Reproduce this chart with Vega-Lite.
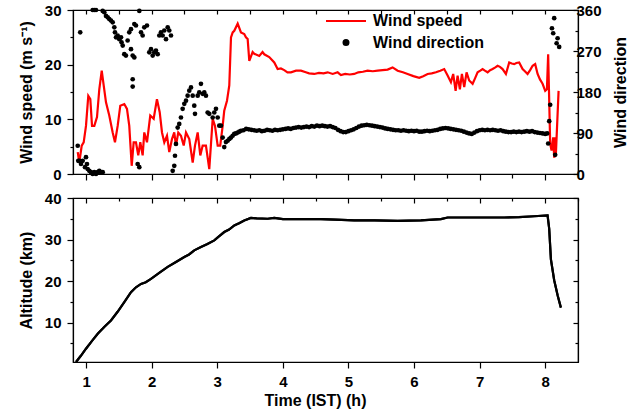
{
  "$schema": "https://vega.github.io/schema/vega-lite/v6.json",
  "padding": {"left": 17, "top": 2, "right": 5, "bottom": 5},
  "background": "white",
  "spacing": 24,
  "bounds": "flush",
  "config": {
    "font": "Liberation Sans",
    "view": {"stroke": "black", "strokeWidth": 1.2},
    "axis": {
      "domainColor": "black", "tickColor": "black", "labelColor": "black", "titleColor": "black",
      "labelFont": "Liberation Sans", "titleFont": "Liberation Sans",
      "labelFontWeight": "bold", "titleFontWeight": "bold",
      "labelFontSize": 15, "titleFontSize": 16, "grid": false,
      "domainWidth": 1.2, "tickWidth": 1.2
    }
  },
  "datasets": {
    "speed": [
      {"t":0.872,"s":4.0},{"t":0.896,"s":2.1},{"t":0.933,"s":5.2},{"t":0.963,"s":5.8},{"t":0.998,"s":8.8},{"t":1.033,"s":14.3},{"t":1.064,"s":13.7},{"t":1.090,"s":8.8},{"t":1.125,"s":8.8},{"t":1.166,"s":10.4},{"t":1.201,"s":15.5},{"t":1.238,"s":18.9},{"t":1.268,"s":16.2},{"t":1.303,"s":13.1},{"t":1.353,"s":10.7},{"t":1.405,"s":7.6},{"t":1.440,"s":5.8},{"t":1.481,"s":8.8},{"t":1.521,"s":12.5},{"t":1.582,"s":12.8},{"t":1.623,"s":11.9},{"t":1.658,"s":8.8},{"t":1.695,"s":1.5},{"t":1.725,"s":5.8},{"t":1.760,"s":5.8},{"t":1.795,"s":3.4},{"t":1.826,"s":5.8},{"t":1.862,"s":3.4},{"t":1.887,"s":7.6},{"t":1.928,"s":5.8},{"t":1.978,"s":10.7},{"t":2.030,"s":10.1},{"t":2.080,"s":13.7},{"t":2.122,"s":11.3},{"t":2.157,"s":7.6},{"t":2.192,"s":5.8},{"t":2.233,"s":7.0},{"t":2.268,"s":4.0},{"t":2.309,"s":6.4},{"t":2.344,"s":7.6},{"t":2.370,"s":5.2},{"t":2.405,"s":7.6},{"t":2.446,"s":7.0},{"t":2.488,"s":5.2},{"t":2.523,"s":7.6},{"t":2.573,"s":6.4},{"t":2.625,"s":2.1},{"t":2.660,"s":5.2},{"t":2.701,"s":7.6},{"t":2.741,"s":3.4},{"t":2.777,"s":5.2},{"t":2.827,"s":5.2},{"t":2.878,"s":0.9},{"t":2.930,"s":10.1},{"t":2.965,"s":8.8},{"t":3.006,"s":5.2},{"t":3.045,"s":5.2},{"t":3.082,"s":8.8},{"t":3.106,"s":11.6},{"t":3.148,"s":13.4},{"t":3.183,"s":16.2},{"t":3.209,"s":25.0},{"t":3.235,"s":25.9},{"t":3.259,"s":26.2},{"t":3.311,"s":27.5},{"t":3.361,"s":25.9},{"t":3.411,"s":25.6},{"t":3.437,"s":25.0},{"t":3.463,"s":24.7},{"t":3.488,"s":20.7},{"t":3.539,"s":22.3},{"t":3.564,"s":22.0},{"t":3.640,"s":21.6},{"t":3.690,"s":22.3},{"t":3.716,"s":21.9},{"t":3.792,"s":21.4},{"t":3.869,"s":20.4},{"t":3.920,"s":19.2},{"t":3.970,"s":19.3},{"t":4.021,"s":19.0},{"t":4.070,"s":18.6},{"t":4.123,"s":18.6},{"t":4.200,"s":18.9},{"t":4.276,"s":18.9},{"t":4.350,"s":18.6},{"t":4.400,"s":18.4},{"t":4.478,"s":18.3},{"t":4.550,"s":18.5},{"t":4.620,"s":18.4},{"t":4.683,"s":18.6},{"t":4.760,"s":18.3},{"t":4.835,"s":18.6},{"t":4.885,"s":18.1},{"t":4.950,"s":18.3},{"t":5.020,"s":18.2},{"t":5.088,"s":18.3},{"t":5.150,"s":18.6},{"t":5.220,"s":18.7},{"t":5.292,"s":18.9},{"t":5.370,"s":18.8},{"t":5.445,"s":18.9},{"t":5.520,"s":19.0},{"t":5.597,"s":19.1},{"t":5.673,"s":19.5},{"t":5.750,"s":18.9},{"t":5.830,"s":18.6},{"t":5.902,"s":18.3},{"t":5.990,"s":17.9},{"t":6.079,"s":17.6},{"t":6.140,"s":17.9},{"t":6.207,"s":18.3},{"t":6.270,"s":18.4},{"t":6.334,"s":18.6},{"t":6.400,"s":18.9},{"t":6.460,"s":19.2},{"t":6.512,"s":18.0},{"t":6.562,"s":16.8},{"t":6.597,"s":18.3},{"t":6.634,"s":15.2},{"t":6.664,"s":18.0},{"t":6.699,"s":15.5},{"t":6.730,"s":18.3},{"t":6.765,"s":15.9},{"t":6.801,"s":18.6},{"t":6.841,"s":17.1},{"t":6.893,"s":16.5},{"t":6.930,"s":17.5},{"t":6.969,"s":18.6},{"t":7.010,"s":18.9},{"t":7.045,"s":19.2},{"t":7.080,"s":18.9},{"t":7.122,"s":18.6},{"t":7.160,"s":19.0},{"t":7.198,"s":19.2},{"t":7.240,"s":19.5},{"t":7.274,"s":19.8},{"t":7.310,"s":19.6},{"t":7.350,"s":19.2},{"t":7.401,"s":18.3},{"t":7.451,"s":20.4},{"t":7.490,"s":20.2},{"t":7.527,"s":20.1},{"t":7.560,"s":20.3},{"t":7.603,"s":20.4},{"t":7.655,"s":19.2},{"t":7.690,"s":18.8},{"t":7.731,"s":18.3},{"t":7.770,"s":19.0},{"t":7.808,"s":19.8},{"t":7.847,"s":20.1},{"t":7.884,"s":18.3},{"t":7.920,"s":17.3},{"t":7.960,"s":16.5},{"t":8.000,"s":15.2},{"t":8.026,"s":15.5},{"t":8.045,"s":21.9},{"t":8.061,"s":13.4},{"t":8.076,"s":5.5},{"t":8.097,"s":4.3},{"t":8.122,"s":6.7},{"t":8.137,"s":3.0},{"t":8.152,"s":6.7},{"t":8.163,"s":3.7},{"t":8.189,"s":11.0},{"t":8.204,"s":15.2}
    ],
    "dir": [
      {"t":0.872,"d":62},{"t":0.880,"d":29},{"t":0.896,"d":29},{"t":0.910,"d":311},{"t":0.922,"d":22},{"t":0.948,"d":29},{"t":0.983,"d":15},{"t":0.998,"d":37},{"t":1.013,"d":22},{"t":1.024,"d":11},{"t":1.048,"d":7},{"t":1.074,"d":4},{"t":1.100,"d":0},{"t":1.125,"d":4},{"t":1.151,"d":0},{"t":1.177,"d":4},{"t":1.201,"d":7},{"t":1.227,"d":4},{"t":1.253,"d":4},
      {"t":1.100,"d":360},{"t":1.125,"d":360},{"t":1.151,"d":360},{"t":1.253,"d":358},{"t":1.277,"d":355},{"t":1.303,"d":347},{"t":1.329,"d":344},{"t":1.353,"d":340},{"t":1.379,"d":337},{"t":1.405,"d":333},{"t":1.430,"d":322},{"t":1.440,"d":311},{"t":1.456,"d":300},{"t":1.481,"d":304},{"t":1.506,"d":296},{"t":1.532,"d":300},{"t":1.540,"d":289},{"t":1.558,"d":282},{"t":1.582,"d":263},{"t":1.607,"d":260},{"t":1.633,"d":293},{"t":1.658,"d":311},{"t":1.684,"d":318},{"t":1.684,"d":274},{"t":1.710,"d":260},{"t":1.735,"d":256},{"t":1.735,"d":329},{"t":1.760,"d":326},{"t":1.811,"d":358},{"t":1.837,"d":311},{"t":1.862,"d":304},{"t":1.887,"d":322},{"t":1.928,"d":326},{"t":1.963,"d":267},{"t":1.989,"d":274},{"t":2.015,"d":260},{"t":2.039,"d":267},{"t":2.065,"d":271},{"t":2.091,"d":263},{"t":2.116,"d":304},{"t":2.141,"d":311},{"t":2.167,"d":304},{"t":2.192,"d":315},{"t":2.218,"d":296},{"t":2.244,"d":322},{"t":2.268,"d":315},{"t":2.294,"d":304},
      {"t":1.710,"d":208},{"t":1.710,"d":192},{"t":1.786,"d":22},{"t":1.811,"d":15},
      {"t":2.320,"d":7},{"t":2.344,"d":18},{"t":2.355,"d":40},{"t":2.370,"d":66},{"t":2.396,"d":102},{"t":2.420,"d":110},{"t":2.446,"d":124},{"t":2.472,"d":143},{"t":2.497,"d":154},{"t":2.523,"d":161},{"t":2.548,"d":172},{"t":2.573,"d":183},{"t":2.599,"d":190},{"t":2.625,"d":172},{"t":2.649,"d":150},{"t":2.660,"d":132},{"t":2.701,"d":172},{"t":2.725,"d":179},{"t":2.751,"d":198},{"t":2.777,"d":176},{"t":2.802,"d":179},{"t":2.827,"d":172},{"t":2.853,"d":135},{"t":2.878,"d":132},{"t":2.930,"d":124},{"t":2.954,"d":135},{"t":2.980,"d":143},{"t":3.006,"d":124},{"t":3.030,"d":106},{"t":3.056,"d":106},{"t":3.082,"d":80},{"t":3.106,"d":59},{"t":3.132,"d":70},{"t":3.158,"d":73},{"t":3.184,"d":77},{"t":3.209,"d":80},{"t":3.234,"d":84},{"t":3.259,"d":88},{"t":3.285,"d":89},{"t":3.311,"d":91},{"t":3.336,"d":93},{"t":3.361,"d":95},
      {"t":3.40,"d":96},{"t":3.44,"d":99},{"t":3.48,"d":98},{"t":3.52,"d":97},{"t":3.56,"d":96},{"t":3.60,"d":95},{"t":3.64,"d":96},{"t":3.68,"d":94},{"t":3.72,"d":95},{"t":3.76,"d":97},{"t":3.80,"d":96},{"t":3.84,"d":95},{"t":3.88,"d":97},{"t":3.92,"d":96},{"t":3.96,"d":97},{"t":4.00,"d":98},{"t":4.04,"d":99},{"t":4.08,"d":100},{"t":4.12,"d":99},{"t":4.16,"d":101},{"t":4.20,"d":102},{"t":4.24,"d":103},{"t":4.28,"d":102},{"t":4.32,"d":103},{"t":4.36,"d":104},{"t":4.40,"d":103},{"t":4.44,"d":105},{"t":4.48,"d":104},{"t":4.52,"d":106},{"t":4.56,"d":105},{"t":4.60,"d":106},{"t":4.64,"d":105},{"t":4.68,"d":104},{"t":4.72,"d":105},{"t":4.76,"d":103},{"t":4.80,"d":101},{"t":4.84,"d":97},{"t":4.88,"d":94},{"t":4.92,"d":92},{"t":4.96,"d":92},{"t":5.00,"d":94},{"t":5.04,"d":96},{"t":5.08,"d":98},{"t":5.12,"d":101},{"t":5.16,"d":104},{"t":5.20,"d":106},{"t":5.24,"d":107},{"t":5.28,"d":108},{"t":5.32,"d":107},{"t":5.36,"d":106},{"t":5.40,"d":105},{"t":5.44,"d":104},{"t":5.48,"d":103},{"t":5.52,"d":102},{"t":5.56,"d":100},{"t":5.60,"d":99},{"t":5.64,"d":98},{"t":5.68,"d":97},{"t":5.72,"d":96},{"t":5.76,"d":96},{"t":5.80,"d":95},{"t":5.84,"d":96},{"t":5.88,"d":95},{"t":5.92,"d":94},{"t":5.96,"d":95},{"t":6.00,"d":94},{"t":6.04,"d":95},{"t":6.08,"d":93},{"t":6.12,"d":93},{"t":6.16,"d":94},{"t":6.20,"d":95},{"t":6.24,"d":94},{"t":6.28,"d":95},{"t":6.32,"d":96},{"t":6.36,"d":97},{"t":6.40,"d":99},{"t":6.44,"d":100},{"t":6.48,"d":101},{"t":6.52,"d":100},{"t":6.56,"d":99},{"t":6.60,"d":98},{"t":6.64,"d":97},{"t":6.68,"d":96},{"t":6.72,"d":95},{"t":6.76,"d":93},{"t":6.80,"d":91},{"t":6.84,"d":89},{"t":6.88,"d":88},{"t":6.92,"d":91},{"t":6.96,"d":94},{"t":7.00,"d":96},{"t":7.04,"d":97},{"t":7.08,"d":96},{"t":7.12,"d":97},{"t":7.16,"d":96},{"t":7.20,"d":97},{"t":7.24,"d":96},{"t":7.28,"d":95},{"t":7.32,"d":96},{"t":7.36,"d":94},{"t":7.40,"d":93},{"t":7.44,"d":92},{"t":7.48,"d":92},{"t":7.52,"d":93},{"t":7.56,"d":92},{"t":7.60,"d":93},{"t":7.64,"d":92},{"t":7.68,"d":93},{"t":7.72,"d":94},{"t":7.76,"d":93},{"t":7.80,"d":94},{"t":7.84,"d":92},{"t":7.88,"d":91},{"t":7.92,"d":90},{"t":7.96,"d":89},{"t":8.00,"d":88},{"t":8.03,"d":89},
      {"t":8.045,"d":67},{"t":8.061,"d":116},{"t":8.076,"d":152},{"t":8.103,"d":320},{"t":8.122,"d":309},{"t":8.137,"d":342},{"t":8.152,"d":42},{"t":8.174,"d":287},{"t":8.189,"d":298},{"t":8.213,"d":279}
    ],
    "alt": [
      {"t":0.846,"a":0.5},{"t":0.92,"a":2.0},{"t":0.998,"a":3.7},{"t":1.09,"a":5.6},{"t":1.177,"a":7.3},{"t":1.28,"a":9.0},{"t":1.379,"a":10.5},{"t":1.48,"a":12.6},{"t":1.582,"a":14.9},{"t":1.684,"a":17.3},{"t":1.76,"a":18.5},{"t":1.837,"a":19.3},{"t":1.91,"a":19.7},{"t":1.989,"a":20.5},{"t":2.12,"a":22.0},{"t":2.244,"a":23.4},{"t":2.37,"a":24.6},{"t":2.497,"a":25.8},{"t":2.57,"a":26.4},{"t":2.649,"a":27.4},{"t":2.751,"a":28.2},{"t":2.85,"a":28.9},{"t":2.954,"a":29.8},{"t":3.03,"a":30.8},{"t":3.106,"a":31.8},{"t":3.18,"a":32.4},{"t":3.259,"a":33.4},{"t":3.34,"a":34.0},{"t":3.411,"a":34.6},{"t":3.513,"a":35.2},{"t":3.60,"a":35.1},{"t":3.768,"a":35.0},{"t":3.869,"a":35.2},{"t":4.00,"a":34.9},{"t":4.276,"a":34.9},{"t":4.581,"a":34.9},{"t":4.80,"a":34.8},{"t":5.088,"a":34.6},{"t":5.40,"a":34.6},{"t":5.750,"a":34.5},{"t":6.105,"a":34.6},{"t":6.41,"a":34.9},{"t":6.512,"a":35.3},{"t":6.867,"a":35.3},{"t":7.10,"a":35.3},{"t":7.375,"a":35.3},{"t":7.60,"a":35.4},{"t":7.832,"a":35.6},{"t":8.036,"a":35.8},{"t":8.061,"a":32.6},{"t":8.087,"a":25.2},{"t":8.137,"a":20.2},{"t":8.19,"a":16.5},{"t":8.239,"a":13.6}
    ]
  },
  "vconcat": [
    {
      "width": 505,
      "height": 164,
      "layer": [
        {
          "data": {"name": "speed"},
          "mark": {"type": "line", "strokeWidth": 2.2},
          "encoding": {
            "x": {"field": "t", "type": "quantitative", "scale": {"domain": [0.8, 8.5], "nice": false},
              "axis": {"orient": "bottom", "values": [1,1.5,2,2.5,3,3.5,4,4.5,5,5.5,6,6.5,7,7.5,8,8.5], "labels": false, "title": null,
                "tickSize": {"condition": {"test": "datum.value % 1 === 0", "value": 6}, "value": 4}}},
            "y": {"field": "s", "type": "quantitative", "scale": {"domain": [0, 30], "nice": false},
              "axis": {"orient": "left", "values": [0,5,10,15,20,25,30], "labelExpr": "datum.value % 10 === 0 ? datum.label : ''",
                "tickSize": {"condition": {"test": "datum.value % 10 === 0", "value": 6}, "value": 3},
                "labelPadding": 6, "title": "Wind speed (m s⁻¹)", "titlePadding": 10}},
            "color": {"datum": "Wind speed", "type": "nominal",
              "scale": {"domain": ["Wind speed", "Wind direction"], "range": ["red", "black"]},
              "legend": {
                "orient": "none", "legendX": 262, "legendY": 0, "title": null, "padding": 0,
                "labelFontSize": 16, "labelFontWeight": "bold", "labelFont": "Liberation Sans", "labelColor": "black",
                "symbolSize": 400, "symbolStrokeWidth": 2, "labelOffset": 16, "rowPadding": 2.5,
                "encode": {"symbols": {"update": {
                  "shape": {"signal": "datum.value === 'Wind speed' ? 'M-2,0L2,0' : 'M-0.25,0A0.25,0.25 0 1,0 0.25,0A0.25,0.25 0 1,0 -0.25,0Z'"},
                  "size": {"value": 400},
                  "strokeWidth": {"value": 2},
                  "fill": {"signal": "datum.value === 'Wind speed' ? 'transparent' : 'black'"},
                  "stroke": {"signal": "datum.value === 'Wind speed' ? 'red' : 'black'"},
                  "opacity": {"value": 1}, "fillOpacity": {"value": 1}, "strokeOpacity": {"value": 1}
                }}}
              }}
          }
        },
        {
          "data": {"name": "dir"},
          "mark": {"type": "circle", "size": 22, "opacity": 1},
          "encoding": {
            "x": {"field": "t", "type": "quantitative", "scale": {"domain": [0.8, 8.5], "nice": false},
              "axis": {"orient": "top", "values": [1,1.5,2,2.5,3,3.5,4,4.5,5,5.5,6,6.5,7,7.5,8,8.5], "labels": false, "title": null, "tickSize": -4}},
            "y": {"field": "d", "type": "quantitative", "scale": {"domain": [0, 360], "nice": false},
              "axis": {"orient": "right", "values": [0,45,90,135,180,225,270,315,360], "labelExpr": "datum.value % 90 === 0 ? datum.label : ''",
                "tickSize": {"condition": {"test": "datum.value % 90 === 0", "value": -5}, "value": -3},
                "labelPadding": 3, "title": "Wind direction", "titleAngle": 270, "titleBaseline": "top", "titlePadding": 11}},
            "color": {"datum": "Wind direction", "type": "nominal"}
          }
        }
      ],
      "resolve": {"scale": {"y": "independent"}, "axis": {"x": "independent", "y": "independent"}}
    },
    {
      "width": 505,
      "height": 164,
      "layer": [
        {
          "data": {"name": "alt"},
          "mark": {"type": "line", "color": "black", "strokeWidth": 2.2},
          "encoding": {
            "x": {"field": "t", "type": "quantitative", "scale": {"domain": [0.8, 8.5], "nice": false},
              "axis": {"orient": "bottom", "values": [1,1.5,2,2.5,3,3.5,4,4.5,5,5.5,6,6.5,7,7.5,8,8.5], "format": "d", "labelExpr": "datum.value % 1 === 0 ? datum.label : ''",
                "tickSize": {"condition": {"test": "datum.value % 1 === 0", "value": 6}, "value": 4},
                "labelPadding": 6, "title": "Time (IST) (h)", "titlePadding": 3, "titleX": 242, "titleAlign": "center"}},
            "y": {"field": "a", "type": "quantitative", "scale": {"domain": [0.5, 40], "nice": false, "zero": false},
              "axis": {"orient": "left", "values": [5,10,15,20,25,30,35,40], "labelExpr": "datum.value % 10 === 0 ? datum.label : ''",
                "tickSize": {"condition": {"test": "datum.value % 10 === 0", "value": 6}, "value": 3},
                "labelPadding": 6, "title": "Altitude (km)", "titlePadding": 10}}
          }
        },
        {
          "data": {"name": "alt"},
          "mark": {"type": "line", "color": "black", "strokeWidth": 2.2},
          "encoding": {
            "x": {"field": "t", "type": "quantitative", "scale": {"domain": [0.8, 8.5], "nice": false},
              "axis": {"orient": "top", "values": [1,1.5,2,2.5,3,3.5,4,4.5,5,5.5,6,6.5,7,7.5,8,8.5], "labels": false, "title": null,
                "tickSize": {"condition": {"test": "datum.value % 1 === 0", "value": -5}, "value": -3}}},
            "y": {"field": "a", "type": "quantitative", "scale": {"domain": [0.5, 40], "nice": false, "zero": false},
              "axis": {"orient": "right", "values": [5,10,15,20,25,30,35,40], "labels": false, "title": null,
                "tickSize": {"condition": {"test": "datum.value % 10 === 0", "value": -5}, "value": -3}}}
          }
        }
      ],
      "resolve": {"axis": {"x": "independent", "y": "independent"}}
    }
  ]
}
